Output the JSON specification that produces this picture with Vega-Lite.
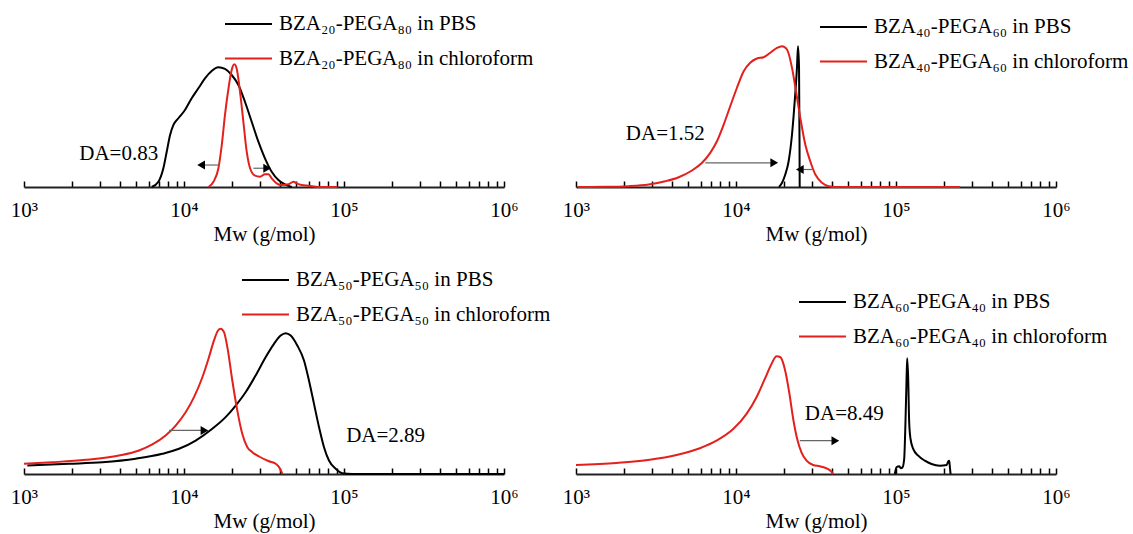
{
  "$schema": "https://vega.github.io/schema/vega-lite/v6.json",
  "background": "white",
  "padding": {"left": 10, "top": 5, "right": 5, "bottom": 5},
  "datasets": {
    "c1": [
      {"series": "BZA₂₀-PEGA₈₀ in PBS", "M": 6281, "I": 0},
      {"series": "BZA₂₀-PEGA₈₀ in PBS", "M": 6918, "I": 0.038},
      {"series": "BZA₂₀-PEGA₈₀ in PBS", "M": 7430, "I": 0.134},
      {"series": "BZA₂₀-PEGA₈₀ in PBS", "M": 7798, "I": 0.252},
      {"series": "BZA₂₀-PEGA₈₀ in PBS", "M": 8185, "I": 0.371},
      {"series": "BZA₂₀-PEGA₈₀ in PBS", "M": 8590, "I": 0.443},
      {"series": "BZA₂₀-PEGA₈₀ in PBS", "M": 9226, "I": 0.491},
      {"series": "BZA₂₀-PEGA₈₀ in PBS", "M": 10140, "I": 0.55},
      {"series": "BZA₂₀-PEGA₈₀ in PBS", "M": 11170, "I": 0.634},
      {"series": "BZA₂₀-PEGA₈₀ in PBS", "M": 12300, "I": 0.705},
      {"series": "BZA₂₀-PEGA₈₀ in PBS", "M": 13520, "I": 0.776},
      {"series": "BZA₂₀-PEGA₈₀ in PBS", "M": 14890, "I": 0.829},
      {"series": "BZA₂₀-PEGA₈₀ in PBS", "M": 16410, "I": 0.855},
      {"series": "BZA₂₀-PEGA₈₀ in PBS", "M": 18030, "I": 0.843},
      {"series": "BZA₂₀-PEGA₈₀ in PBS", "M": 19860, "I": 0.8},
      {"series": "BZA₂₀-PEGA₈₀ in PBS", "M": 21880, "I": 0.729},
      {"series": "BZA₂₀-PEGA₈₀ in PBS", "M": 24040, "I": 0.609},
      {"series": "BZA₂₀-PEGA₈₀ in PBS", "M": 26490, "I": 0.466},
      {"series": "BZA₂₀-PEGA₈₀ in PBS", "M": 29170, "I": 0.324},
      {"series": "BZA₂₀-PEGA₈₀ in PBS", "M": 32060, "I": 0.205},
      {"series": "BZA₂₀-PEGA₈₀ in PBS", "M": 35320, "I": 0.109},
      {"series": "BZA₂₀-PEGA₈₀ in PBS", "M": 38900, "I": 0.05},
      {"series": "BZA₂₀-PEGA₈₀ in PBS", "M": 42760, "I": 0.019},
      {"series": "BZA₂₀-PEGA₈₀ in PBS", "M": 47100, "I": 0},
      {"series": "BZA₂₀-PEGA₈₀ in chloroform", "M": 14220, "I": 0},
      {"series": "BZA₂₀-PEGA₈₀ in chloroform", "M": 15280, "I": 0.038},
      {"series": "BZA₂₀-PEGA₈₀ in chloroform", "M": 16410, "I": 0.134},
      {"series": "BZA₂₀-PEGA₈₀ in chloroform", "M": 17220, "I": 0.3},
      {"series": "BZA₂₀-PEGA₈₀ in chloroform", "M": 18030, "I": 0.514},
      {"series": "BZA₂₀-PEGA₈₀ in chloroform", "M": 18970, "I": 0.705},
      {"series": "BZA₂₀-PEGA₈₀ in chloroform", "M": 19860, "I": 0.836},
      {"series": "BZA₂₀-PEGA₈₀ in chloroform", "M": 20650, "I": 0.876},
      {"series": "BZA₂₀-PEGA₈₀ in chloroform", "M": 21430, "I": 0.836},
      {"series": "BZA₂₀-PEGA₈₀ in chloroform", "M": 22390, "I": 0.681},
      {"series": "BZA₂₀-PEGA₈₀ in chloroform", "M": 23500, "I": 0.466},
      {"series": "BZA₂₀-PEGA₈₀ in chloroform", "M": 24660, "I": 0.252},
      {"series": "BZA₂₀-PEGA₈₀ in chloroform", "M": 25880, "I": 0.134},
      {"series": "BZA₂₀-PEGA₈₀ in chloroform", "M": 27800, "I": 0.081},
      {"series": "BZA₂₀-PEGA₈₀ in chloroform", "M": 29850, "I": 0.074},
      {"series": "BZA₂₀-PEGA₈₀ in chloroform", "M": 32060, "I": 0.091},
      {"series": "BZA₂₀-PEGA₈₀ in chloroform", "M": 33730, "I": 0.091},
      {"series": "BZA₂₀-PEGA₈₀ in chloroform", "M": 35320, "I": 0.062},
      {"series": "BZA₂₀-PEGA₈₀ in chloroform", "M": 37930, "I": 0.026},
      {"series": "BZA₂₀-PEGA₈₀ in chloroform", "M": 40830, "I": 0.014},
      {"series": "BZA₂₀-PEGA₈₀ in chloroform", "M": 44980, "I": 0.019},
      {"series": "BZA₂₀-PEGA₈₀ in chloroform", "M": 48310, "I": 0.038},
      {"series": "BZA₂₀-PEGA₈₀ in chloroform", "M": 50580, "I": 0.026},
      {"series": "BZA₂₀-PEGA₈₀ in chloroform", "M": 54450, "I": 0.014},
      {"series": "BZA₂₀-PEGA₈₀ in chloroform", "M": 59980, "I": 0.009},
      {"series": "BZA₂₀-PEGA₈₀ in chloroform", "M": 69180, "I": 0},
      {"series": "BZA₂₀-PEGA₈₀ in chloroform", "M": 91000, "I": 0}
    ],
    "c2": [
      {"series": "BZA₄₀-PEGA₆₀ in PBS", "M": 18580, "I": 0},
      {"series": "BZA₄₀-PEGA₆₀ in PBS", "M": 19400, "I": 0.03},
      {"series": "BZA₄₀-PEGA₆₀ in PBS", "M": 20320, "I": 0.089},
      {"series": "BZA₄₀-PEGA₆₀ in PBS", "M": 21330, "I": 0.184},
      {"series": "BZA₄₀-PEGA₆₀ in PBS", "M": 22390, "I": 0.375},
      {"series": "BZA₄₀-PEGA₆₀ in PBS", "M": 23280, "I": 0.613},
      {"series": "BZA₄₀-PEGA₆₀ in PBS", "M": 24040, "I": 0.851},
      {"series": "BZA₄₀-PEGA₆₀ in PBS", "M": 24420, "I": 1.006},
      {"series": "BZA₄₀-PEGA₆₀ in PBS", "M": 24770, "I": 0.851},
      {"series": "BZA₄₀-PEGA₆₀ in PBS", "M": 24940, "I": 0.339},
      {"series": "BZA₄₀-PEGA₆₀ in PBS", "M": 25010, "I": 0},
      {"series": "BZA₄₀-PEGA₆₀ in chloroform", "M": 1029, "I": 0},
      {"series": "BZA₄₀-PEGA₆₀ in chloroform", "M": 1517, "I": 0.001},
      {"series": "BZA₄₀-PEGA₆₀ in chloroform", "M": 2133, "I": 0.006},
      {"series": "BZA₄₀-PEGA₆₀ in chloroform", "M": 2844, "I": 0.018},
      {"series": "BZA₄₀-PEGA₆₀ in chloroform", "M": 3614, "I": 0.041},
      {"series": "BZA₄₀-PEGA₆₀ in chloroform", "M": 4385, "I": 0.07},
      {"series": "BZA₄₀-PEGA₆₀ in chloroform", "M": 5309, "I": 0.118},
      {"series": "BZA₄₀-PEGA₆₀ in chloroform", "M": 6138, "I": 0.173},
      {"series": "BZA₄₀-PEGA₆₀ in chloroform", "M": 6902, "I": 0.244},
      {"series": "BZA₄₀-PEGA₆₀ in chloroform", "M": 7603, "I": 0.327},
      {"series": "BZA₄₀-PEGA₆₀ in chloroform", "M": 8375, "I": 0.446},
      {"series": "BZA₄₀-PEGA₆₀ in chloroform", "M": 9204, "I": 0.577},
      {"series": "BZA₄₀-PEGA₆₀ in chloroform", "M": 10140, "I": 0.709},
      {"series": "BZA₄₀-PEGA₆₀ in chloroform", "M": 11170, "I": 0.827},
      {"series": "BZA₄₀-PEGA₆₀ in chloroform", "M": 12270, "I": 0.887},
      {"series": "BZA₄₀-PEGA₆₀ in chloroform", "M": 13520, "I": 0.918},
      {"series": "BZA₄₀-PEGA₆₀ in chloroform", "M": 14890, "I": 0.927},
      {"series": "BZA₄₀-PEGA₆₀ in chloroform", "M": 16380, "I": 0.959},
      {"series": "BZA₄₀-PEGA₆₀ in chloroform", "M": 18030, "I": 0.994},
      {"series": "BZA₄₀-PEGA₆₀ in chloroform", "M": 19410, "I": 1.006},
      {"series": "BZA₄₀-PEGA₆₀ in chloroform", "M": 20840, "I": 0.982},
      {"series": "BZA₄₀-PEGA₆₀ in chloroform", "M": 22390, "I": 0.851},
      {"series": "BZA₄₀-PEGA₆₀ in chloroform", "M": 23710, "I": 0.684},
      {"series": "BZA₄₀-PEGA₆₀ in chloroform", "M": 25230, "I": 0.494},
      {"series": "BZA₄₀-PEGA₆₀ in chloroform", "M": 27100, "I": 0.304},
      {"series": "BZA₄₀-PEGA₆₀ in chloroform", "M": 29110, "I": 0.184},
      {"series": "BZA₄₀-PEGA₆₀ in chloroform", "M": 31330, "I": 0.089},
      {"series": "BZA₄₀-PEGA₆₀ in chloroform", "M": 34470, "I": 0.03},
      {"series": "BZA₄₀-PEGA₆₀ in chloroform", "M": 37930, "I": 0.006},
      {"series": "BZA₄₀-PEGA₆₀ in chloroform", "M": 42000, "I": 0},
      {"series": "BZA₄₀-PEGA₆₀ in chloroform", "M": 251200, "I": 0}
    ],
    "c3": [
      {"series": "BZA₅₀-PEGA₅₀ in PBS", "M": 1049, "I": 0.061},
      {"series": "BZA₅₀-PEGA₅₀ in PBS", "M": 1910, "I": 0.073},
      {"series": "BZA₅₀-PEGA₅₀ in PBS", "M": 3090, "I": 0.084},
      {"series": "BZA₅₀-PEGA₅₀ in PBS", "M": 4989, "I": 0.109},
      {"series": "BZA₅₀-PEGA₅₀ in PBS", "M": 7328, "I": 0.144},
      {"series": "BZA₅₀-PEGA₅₀ in PBS", "M": 9311, "I": 0.18},
      {"series": "BZA₅₀-PEGA₅₀ in PBS", "M": 11830, "I": 0.239},
      {"series": "BZA₅₀-PEGA₅₀ in PBS", "M": 15030, "I": 0.323},
      {"series": "BZA₅₀-PEGA₅₀ in PBS", "M": 18200, "I": 0.406},
      {"series": "BZA₅₀-PEGA₅₀ in PBS", "M": 21040, "I": 0.489},
      {"series": "BZA₅₀-PEGA₅₀ in PBS", "M": 24270, "I": 0.584},
      {"series": "BZA₅₀-PEGA₅₀ in PBS", "M": 28050, "I": 0.704},
      {"series": "BZA₅₀-PEGA₅₀ in PBS", "M": 32360, "I": 0.834},
      {"series": "BZA₅₀-PEGA₅₀ in PBS", "M": 36520, "I": 0.93},
      {"series": "BZA₅₀-PEGA₅₀ in PBS", "M": 40180, "I": 0.989},
      {"series": "BZA₅₀-PEGA₅₀ in PBS", "M": 43150, "I": 1.006},
      {"series": "BZA₅₀-PEGA₅₀ in PBS", "M": 46450, "I": 0.989},
      {"series": "BZA₅₀-PEGA₅₀ in PBS", "M": 51050, "I": 0.918},
      {"series": "BZA₅₀-PEGA₅₀ in PBS", "M": 56230, "I": 0.811},
      {"series": "BZA₅₀-PEGA₅₀ in PBS", "M": 60390, "I": 0.668},
      {"series": "BZA₅₀-PEGA₅₀ in PBS", "M": 64940, "I": 0.501},
      {"series": "BZA₅₀-PEGA₅₀ in PBS", "M": 69820, "I": 0.334},
      {"series": "BZA₅₀-PEGA₅₀ in PBS", "M": 74990, "I": 0.191},
      {"series": "BZA₅₀-PEGA₅₀ in PBS", "M": 80540, "I": 0.096},
      {"series": "BZA₅₀-PEGA₅₀ in PBS", "M": 88720, "I": 0.037},
      {"series": "BZA₅₀-PEGA₅₀ in PBS", "M": 97500, "I": 0.006},
      {"series": "BZA₅₀-PEGA₅₀ in PBS", "M": 112700, "I": 0},
      {"series": "BZA₅₀-PEGA₅₀ in PBS", "M": 1000000, "I": 0},
      {"series": "BZA₅₀-PEGA₅₀ in chloroform", "M": 1000, "I": 0.073},
      {"series": "BZA₅₀-PEGA₅₀ in chloroform", "M": 1503, "I": 0.084},
      {"series": "BZA₅₀-PEGA₅₀ in chloroform", "M": 2427, "I": 0.101},
      {"series": "BZA₅₀-PEGA₅₀ in chloroform", "M": 3926, "I": 0.132},
      {"series": "BZA₅₀-PEGA₅₀ in chloroform", "M": 5236, "I": 0.168},
      {"series": "BZA₅₀-PEGA₅₀ in chloroform", "M": 6339, "I": 0.211},
      {"series": "BZA₅₀-PEGA₅₀ in chloroform", "M": 7674, "I": 0.275},
      {"series": "BZA₅₀-PEGA₅₀ in chloroform", "M": 8872, "I": 0.346},
      {"series": "BZA₅₀-PEGA₅₀ in chloroform", "M": 10240, "I": 0.441},
      {"series": "BZA₅₀-PEGA₅₀ in chloroform", "M": 11550, "I": 0.549},
      {"series": "BZA₅₀-PEGA₅₀ in chloroform", "M": 13030, "I": 0.691},
      {"series": "BZA₅₀-PEGA₅₀ in chloroform", "M": 14320, "I": 0.834},
      {"series": "BZA₅₀-PEGA₅₀ in chloroform", "M": 15400, "I": 0.954},
      {"series": "BZA₅₀-PEGA₅₀ in chloroform", "M": 16320, "I": 1.025},
      {"series": "BZA₅₀-PEGA₅₀ in chloroform", "M": 16950, "I": 1.037},
      {"series": "BZA₅₀-PEGA₅₀ in chloroform", "M": 17780, "I": 1.013},
      {"series": "BZA₅₀-PEGA₅₀ in chloroform", "M": 18660, "I": 0.906},
      {"series": "BZA₅₀-PEGA₅₀ in chloroform", "M": 20040, "I": 0.668},
      {"series": "BZA₅₀-PEGA₅₀ in chloroform", "M": 21530, "I": 0.454},
      {"series": "BZA₅₀-PEGA₅₀ in chloroform", "M": 23120, "I": 0.287},
      {"series": "BZA₅₀-PEGA₅₀ in chloroform", "M": 24890, "I": 0.191},
      {"series": "BZA₅₀-PEGA₅₀ in chloroform", "M": 26730, "I": 0.156},
      {"series": "BZA₅₀-PEGA₅₀ in chloroform", "M": 29440, "I": 0.125},
      {"series": "BZA₅₀-PEGA₅₀ in chloroform", "M": 33960, "I": 0.091},
      {"series": "BZA₅₀-PEGA₅₀ in chloroform", "M": 37410, "I": 0.073},
      {"series": "BZA₅₀-PEGA₅₀ in chloroform", "M": 39260, "I": 0.049},
      {"series": "BZA₅₀-PEGA₅₀ in chloroform", "M": 41210, "I": 0}
    ],
    "c4": [
      {"series": "BZA₆₀-PEGA₄₀ in PBS", "M": 98290, "I": 0},
      {"series": "BZA₆₀-PEGA₄₀ in PBS", "M": 100700, "I": 0.048},
      {"series": "BZA₆₀-PEGA₄₀ in PBS", "M": 104700, "I": 0.055},
      {"series": "BZA₆₀-PEGA₄₀ in PBS", "M": 107200, "I": 0.041},
      {"series": "BZA₆₀-PEGA₄₀ in PBS", "M": 109900, "I": 0.048},
      {"series": "BZA₆₀-PEGA₄₀ in PBS", "M": 112500, "I": 0.107},
      {"series": "BZA₆₀-PEGA₄₀ in PBS", "M": 114600, "I": 0.369},
      {"series": "BZA₆₀-PEGA₄₀ in PBS", "M": 116400, "I": 0.679},
      {"series": "BZA₆₀-PEGA₄₀ in PBS", "M": 117500, "I": 0.826},
      {"series": "BZA₆₀-PEGA₄₀ in PBS", "M": 119200, "I": 0.679},
      {"series": "BZA₆₀-PEGA₄₀ in PBS", "M": 120900, "I": 0.369},
      {"series": "BZA₆₀-PEGA₄₀ in PBS", "M": 123300, "I": 0.25},
      {"series": "BZA₆₀-PEGA₄₀ in PBS", "M": 128100, "I": 0.179},
      {"series": "BZA₆₀-PEGA₄₀ in PBS", "M": 137700, "I": 0.131},
      {"series": "BZA₆₀-PEGA₄₀ in PBS", "M": 151400, "I": 0.095},
      {"series": "BZA₆₀-PEGA₄₀ in PBS", "M": 166700, "I": 0.071},
      {"series": "BZA₆₀-PEGA₄₀ in PBS", "M": 187900, "I": 0.059},
      {"series": "BZA₆₀-PEGA₄₀ in PBS", "M": 207000, "I": 0.064},
      {"series": "BZA₆₀-PEGA₄₀ in PBS", "M": 211800, "I": 0.088},
      {"series": "BZA₆₀-PEGA₄₀ in PBS", "M": 215000, "I": 0.095},
      {"series": "BZA₆₀-PEGA₄₀ in PBS", "M": 216800, "I": 0.059},
      {"series": "BZA₆₀-PEGA₄₀ in PBS", "M": 219300, "I": 0},
      {"series": "BZA₆₀-PEGA₄₀ in chloroform", "M": 1000, "I": 0.064},
      {"series": "BZA₆₀-PEGA₄₀ in chloroform", "M": 1791, "I": 0.079},
      {"series": "BZA₆₀-PEGA₄₀ in chloroform", "M": 2891, "I": 0.102},
      {"series": "BZA₆₀-PEGA₄₀ in chloroform", "M": 4246, "I": 0.136},
      {"series": "BZA₆₀-PEGA₄₀ in chloroform", "M": 5943, "I": 0.184},
      {"series": "BZA₆₀-PEGA₄₀ in chloroform", "M": 7551, "I": 0.238},
      {"series": "BZA₆₀-PEGA₄₀ in chloroform", "M": 9605, "I": 0.321},
      {"series": "BZA₆₀-PEGA₄₀ in chloroform", "M": 11640, "I": 0.429},
      {"series": "BZA₆₀-PEGA₄₀ in chloroform", "M": 13430, "I": 0.548},
      {"series": "BZA₆₀-PEGA₄₀ in chloroform", "M": 15140, "I": 0.679},
      {"series": "BZA₆₀-PEGA₄₀ in chloroform", "M": 16670, "I": 0.786},
      {"series": "BZA₆₀-PEGA₄₀ in chloroform", "M": 17910, "I": 0.841},
      {"series": "BZA₆₀-PEGA₄₀ in chloroform", "M": 18970, "I": 0.834},
      {"series": "BZA₆₀-PEGA₄₀ in chloroform", "M": 20180, "I": 0.75},
      {"series": "BZA₆₀-PEGA₄₀ in chloroform", "M": 21500, "I": 0.584},
      {"series": "BZA₆₀-PEGA₄₀ in chloroform", "M": 22780, "I": 0.393},
      {"series": "BZA₆₀-PEGA₄₀ in chloroform", "M": 24120, "I": 0.25},
      {"series": "BZA₆₀-PEGA₄₀ in chloroform", "M": 25650, "I": 0.155},
      {"series": "BZA₆₀-PEGA₄₀ in chloroform", "M": 27610, "I": 0.095},
      {"series": "BZA₆₀-PEGA₄₀ in chloroform", "M": 30380, "I": 0.064},
      {"series": "BZA₆₀-PEGA₄₀ in chloroform", "M": 33420, "I": 0.055},
      {"series": "BZA₆₀-PEGA₄₀ in chloroform", "M": 36810, "I": 0.041},
      {"series": "BZA₆₀-PEGA₄₀ in chloroform", "M": 39540, "I": 0.016},
      {"series": "BZA₆₀-PEGA₄₀ in chloroform", "M": 40500, "I": 0}
    ],
    "shafts": [
      {"panel": 1, "id": "a", "M": 16790, "I": 0.157},
      {"panel": 1, "id": "a", "M": 12790, "I": 0.157},
      {"panel": 1, "id": "b", "M": 27160, "I": 0.134},
      {"panel": 1, "id": "b", "M": 33110, "I": 0.134},
      {"panel": 2, "id": "a", "M": 6427, "I": 0.173},
      {"panel": 2, "id": "a", "M": 17340, "I": 0.173},
      {"panel": 2, "id": "b", "M": 29850, "I": 0.125},
      {"panel": 2, "id": "b", "M": 25060, "I": 0.125},
      {"panel": 3, "id": "a", "M": 8054, "I": 0.311},
      {"panel": 3, "id": "a", "M": 13430, "I": 0.311},
      {"panel": 4, "id": "a", "M": 25060, "I": 0.238},
      {"panel": 4, "id": "a", "M": 41780, "I": 0.238}
    ],
    "heads": [
      {"panel": 1, "dir": "left", "M": 12790, "I": 0.157},
      {"panel": 1, "dir": "right", "M": 33110, "I": 0.134},
      {"panel": 2, "dir": "right", "M": 17340, "I": 0.173},
      {"panel": 2, "dir": "left", "M": 25060, "I": 0.125},
      {"panel": 3, "dir": "right", "M": 13430, "I": 0.311},
      {"panel": 4, "dir": "right", "M": 41780, "I": 0.238}
    ],
    "labels": [
      {"panel": 1, "label": "DA=0.83", "M": 3908, "I": 0.239},
      {"panel": 2, "label": "DA=1.52", "M": 3614, "I": 0.382},
      {"panel": 3, "label": "DA=2.89", "M": 182000, "I": 0.275},
      {"panel": 4, "label": "DA=8.49", "M": 47530, "I": 0.429}
    ]
  },
  "columns": 2,
  "spacing": {"row": 105, "column": 72},
  "bounds": "flush",
  "resolve": {
    "scale": {"color": "independent", "x": "independent", "y": "independent", "shape": "independent"},
    "legend": {"color": "independent"},
    "axis": {"x": "independent"}
  },
  "concat": [
    {
      "width": 480, "height": 182,
      "encoding": {
        "x": {"field": "M", "type": "quantitative", "scale": {"type": "log", "domain": [1000, 1000000]},
          "axis": {"title": "Mw (g/mol)", "values": [1000,2000,3000,4000,5000,6000,7000,8000,9000,10000,20000,30000,40000,50000,60000,70000,80000,90000,100000,200000,300000,400000,500000,600000,700000,800000,900000,1000000],
            "labelExpr": "datum.value == 1000 ? '10³' : datum.value == 10000 ? '10⁴' : datum.value == 100000 ? '10⁵' : datum.value == 1000000 ? '10⁶' : ''"}},
        "y": {"field": "I", "type": "quantitative", "scale": {"domain": [0, 1.3]}, "axis": null}
      },
      "layer": [
        {"data": {"name": "c1"}, "mark": {"type": "line", "strokeWidth": 2, "interpolate": "monotone"},
          "encoding": {"color": {"field": "series", "type": "nominal",
            "scale": {"domain": ["BZA₂₀-PEGA₈₀ in PBS", "BZA₂₀-PEGA₈₀ in chloroform"], "range": ["#000000", "#e3201b"]},
            "legend": {"title": null, "orient": "none", "legendX": 200, "legendY": 9}}}},
        {"data": {"name": "shafts"}, "transform": [{"filter": "datum.panel == 1"}], "mark": {"type": "line", "strokeWidth": 1.2, "color": "#666666"}, "encoding": {"detail": {"field": "id", "type": "nominal"}}},
        {"data": {"name": "heads"}, "transform": [{"filter": "datum.panel == 1"}], "mark": {"type": "point", "filled": true, "color": "#000000", "opacity": 1, "size": 80},
          "encoding": {"shape": {"field": "dir", "type": "nominal", "scale": {"domain": ["left", "right"], "range": ["triangle-left", "triangle-right"]}, "legend": null}}},
        {"data": {"name": "labels"}, "transform": [{"filter": "datum.panel == 1"}], "mark": {"type": "text", "font": "Liberation Serif, Times New Roman, Tinos, serif", "fontSize": 21, "color": "#000000"},
          "encoding": {"text": {"field": "label", "type": "nominal"}}}
      ]
    },
    {
      "width": 480, "height": 182,
      "encoding": {
        "x": {"field": "M", "type": "quantitative", "scale": {"type": "log", "domain": [1000, 1000000]},
          "axis": {"title": "Mw (g/mol)", "values": [1000,2000,3000,4000,5000,6000,7000,8000,9000,10000,20000,30000,40000,50000,60000,70000,80000,90000,100000,200000,300000,400000,500000,600000,700000,800000,900000,1000000],
            "labelExpr": "datum.value == 1000 ? '10³' : datum.value == 10000 ? '10⁴' : datum.value == 100000 ? '10⁵' : datum.value == 1000000 ? '10⁶' : ''"}},
        "y": {"field": "I", "type": "quantitative", "scale": {"domain": [0, 1.3]}, "axis": null}
      },
      "layer": [
        {"data": {"name": "c2"}, "mark": {"type": "line", "strokeWidth": 2, "interpolate": "monotone"},
          "encoding": {"color": {"field": "series", "type": "nominal",
            "scale": {"domain": ["BZA₄₀-PEGA₆₀ in PBS", "BZA₄₀-PEGA₆₀ in chloroform"], "range": ["#000000", "#e3201b"]},
            "legend": {"title": null, "orient": "none", "legendX": 243, "legendY": 12}}}},
        {"data": {"name": "shafts"}, "transform": [{"filter": "datum.panel == 2"}], "mark": {"type": "line", "strokeWidth": 1.2, "color": "#666666"}, "encoding": {"detail": {"field": "id", "type": "nominal"}}},
        {"data": {"name": "heads"}, "transform": [{"filter": "datum.panel == 2"}], "mark": {"type": "point", "filled": true, "color": "#000000", "opacity": 1, "size": 80},
          "encoding": {"shape": {"field": "dir", "type": "nominal", "scale": {"domain": ["left", "right"], "range": ["triangle-left", "triangle-right"]}, "legend": null}}},
        {"data": {"name": "labels"}, "transform": [{"filter": "datum.panel == 2"}], "mark": {"type": "text", "font": "Liberation Serif, Times New Roman, Tinos, serif", "fontSize": 21, "color": "#000000"},
          "encoding": {"text": {"field": "label", "type": "nominal"}}}
      ]
    },
    {
      "width": 480, "height": 182,
      "encoding": {
        "x": {"field": "M", "type": "quantitative", "scale": {"type": "log", "domain": [1000, 1000000]},
          "axis": {"title": "Mw (g/mol)", "values": [1000,2000,3000,4000,5000,6000,7000,8000,9000,10000,20000,30000,40000,50000,60000,70000,80000,90000,100000,200000,300000,400000,500000,600000,700000,800000,900000,1000000],
            "labelExpr": "datum.value == 1000 ? '10³' : datum.value == 10000 ? '10⁴' : datum.value == 100000 ? '10⁵' : datum.value == 1000000 ? '10⁶' : ''"}},
        "y": {"field": "I", "type": "quantitative", "scale": {"domain": [0, 1.3]}, "axis": null}
      },
      "layer": [
        {"data": {"name": "c3"}, "mark": {"type": "line", "strokeWidth": 2, "interpolate": "monotone"},
          "encoding": {"color": {"field": "series", "type": "nominal",
            "scale": {"domain": ["BZA₅₀-PEGA₅₀ in PBS", "BZA₅₀-PEGA₅₀ in chloroform"], "range": ["#000000", "#e3201b"]},
            "legend": {"title": null, "orient": "none", "legendX": 217, "legendY": -22}}}},
        {"data": {"name": "shafts"}, "transform": [{"filter": "datum.panel == 3"}], "mark": {"type": "line", "strokeWidth": 1.2, "color": "#666666"}, "encoding": {"detail": {"field": "id", "type": "nominal"}}},
        {"data": {"name": "heads"}, "transform": [{"filter": "datum.panel == 3"}], "mark": {"type": "point", "filled": true, "color": "#000000", "opacity": 1, "size": 80},
          "encoding": {"shape": {"field": "dir", "type": "nominal", "scale": {"domain": ["left", "right"], "range": ["triangle-left", "triangle-right"]}, "legend": null}}},
        {"data": {"name": "labels"}, "transform": [{"filter": "datum.panel == 3"}], "mark": {"type": "text", "font": "Liberation Serif, Times New Roman, Tinos, serif", "fontSize": 21, "color": "#000000"},
          "encoding": {"text": {"field": "label", "type": "nominal"}}}
      ]
    },
    {
      "width": 480, "height": 182,
      "encoding": {
        "x": {"field": "M", "type": "quantitative", "scale": {"type": "log", "domain": [1000, 1000000]},
          "axis": {"title": "Mw (g/mol)", "values": [1000,2000,3000,4000,5000,6000,7000,8000,9000,10000,20000,30000,40000,50000,60000,70000,80000,90000,100000,200000,300000,400000,500000,600000,700000,800000,900000,1000000],
            "labelExpr": "datum.value == 1000 ? '10³' : datum.value == 10000 ? '10⁴' : datum.value == 100000 ? '10⁵' : datum.value == 1000000 ? '10⁶' : ''"}},
        "y": {"field": "I", "type": "quantitative", "scale": {"domain": [0, 1.3]}, "axis": null}
      },
      "layer": [
        {"data": {"name": "c4"}, "mark": {"type": "line", "strokeWidth": 2, "interpolate": "monotone"},
          "encoding": {"color": {"field": "series", "type": "nominal",
            "scale": {"domain": ["BZA₆₀-PEGA₄₀ in PBS", "BZA₆₀-PEGA₄₀ in chloroform"], "range": ["#000000", "#e3201b"]},
            "legend": {"title": null, "orient": "none", "legendX": 222, "legendY": 0}}}},
        {"data": {"name": "shafts"}, "transform": [{"filter": "datum.panel == 4"}], "mark": {"type": "line", "strokeWidth": 1.2, "color": "#666666"}, "encoding": {"detail": {"field": "id", "type": "nominal"}}},
        {"data": {"name": "heads"}, "transform": [{"filter": "datum.panel == 4"}], "mark": {"type": "point", "filled": true, "color": "#000000", "opacity": 1, "size": 80},
          "encoding": {"shape": {"field": "dir", "type": "nominal", "scale": {"domain": ["left", "right"], "range": ["triangle-left", "triangle-right"]}, "legend": null}}},
        {"data": {"name": "labels"}, "transform": [{"filter": "datum.panel == 4"}], "mark": {"type": "text", "font": "Liberation Serif, Times New Roman, Tinos, serif", "fontSize": 21, "color": "#000000"},
          "encoding": {"text": {"field": "label", "type": "nominal"}}}
      ]
    }
  ],
  "config": {
    "view": {"stroke": null},
    "axis": {
      "labelFlush": false, "labelOverlap": false, "grid": false,
      "domainColor": "#222222", "domainWidth": 1.8, "tickColor": "#000000", "tickWidth": 1.5, "tickSize": -6,
      "labelFont": "Liberation Serif, Times New Roman, Tinos, serif", "labelFontSize": 21, "labelColor": "#000000", "labelPadding": 18,
      "titleFont": "Liberation Serif, Times New Roman, Tinos, serif", "titleFontSize": 21, "titleFontWeight": "normal", "titleColor": "#000000", "titlePadding": 3
    },
    "legend": {
      "symbolType": "stroke", "symbolSize": 2209, "symbolStrokeWidth": 2, "clipHeight": 20, "rowPadding": 13.5,
      "labelOffset": 6, "labelFont": "Liberation Serif, Times New Roman, Tinos, serif", "labelFontSize": 21, "labelColor": "#000000", "labelLimit": 0, "padding": 0
    }
  }
}
